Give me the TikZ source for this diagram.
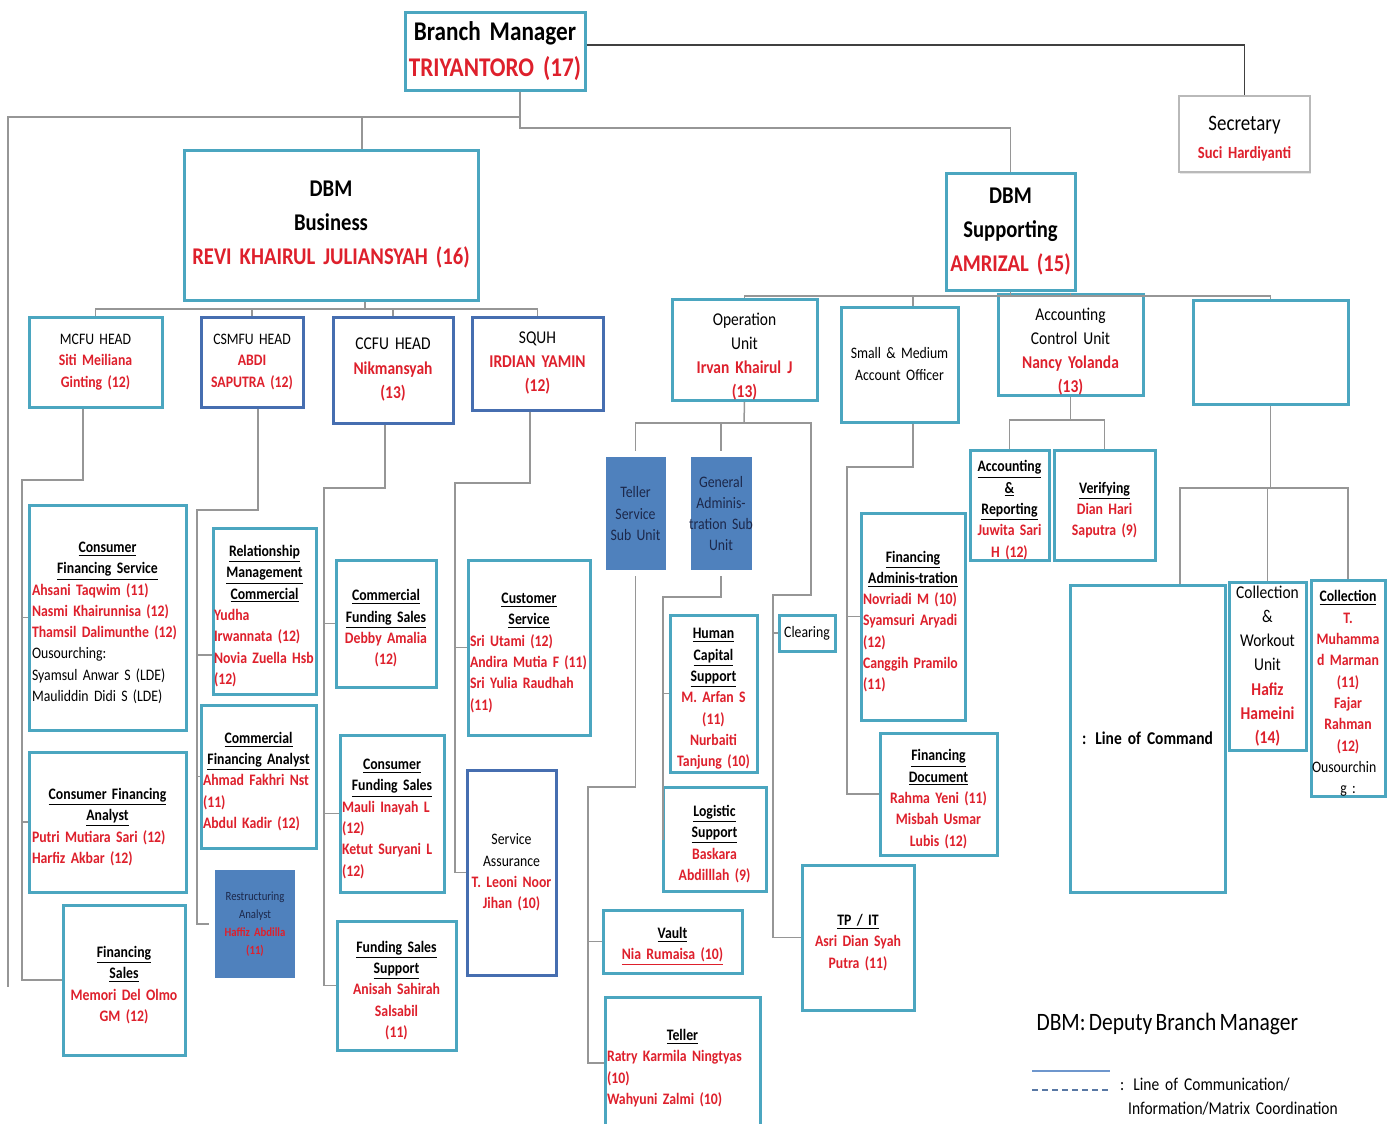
\documentclass[tikz,border=0pt]{standalone}
\usepackage{xcolor}
\usepackage{tikz}
\usepackage{amsmath}
\usepackage{fontspec}
\setmainfont{Carlito}[FakeStretch=0.86, WordSpace=0.68]
\usetikzlibrary{shadows}

\definecolor{unitteal}{RGB}{75,166,192}
\definecolor{headblue}{RGB}{70,110,176}
\definecolor{subblue}{RGB}{79,129,189}
\definecolor{namered}{RGB}{222,32,44}
\definecolor{linkgray}{RGB}{150,150,150}
\definecolor{subtext}{RGB}{28,40,75}
\definecolor{legendblue}{RGB}{110,150,205}

\newcommand{\hd}[1]{\par{\centering\underline{\textbf{#1}}\par}}
\newcommand{\nm}[1]{{\color{namered}\bfseries #1}}

\begin{document}
\begin{tikzpicture}[x=1pt,y=-1pt]
        % Define styles
        \tikzset{
            unit/.style={rectangle, draw=unitteal, line width=3pt, fill=white, inner sep=0pt, align=center, font=\fontsize{16}{21.3}\selectfont},
            head/.style={unit, draw=headblue},
            subunit/.style={rectangle, draw=white, line width=6pt, fill=subblue, inner sep=0pt, align=center, text=subtext, font=\fontsize{16}{21.3}\selectfont, drop shadow={shadow xshift=1pt, shadow yshift=-3pt, opacity=0.25}},
            secbox/.style={rectangle, draw=gray!55, line width=1.5pt, fill=white, inner sep=0pt, align=center, drop shadow={shadow xshift=1pt, shadow yshift=-2pt, opacity=0.2}},
            link/.style={draw=linkgray, line width=1.5pt},
            bmlink/.style={draw=black!75, line width=1.6pt}
        }
        \useasboundingbox (0,0) rectangle (1395,1124);

        % Nodes
        \node[unit, minimum width=180pt, minimum height=77pt, text width=176pt, font=\fontsize{27}{36}\selectfont\bfseries] (bm) at (495,51.5) {Branch Manager\\ \nm{TRIYANTORO (17)}};
        \node[secbox, minimum width=131pt, minimum height=76pt, text width=127pt, font=\fontsize{17}{28}\selectfont] (sec) at (1244.5,134) {\rule{0pt}{24pt}{\fontsize{22}{28}\selectfont Secretary}\\ \nm{Suci Hardiyanti}};

        \node[unit, minimum width=294pt, minimum height=150pt, text width=290pt, font=\fontsize{24}{34}\selectfont\bfseries] (dbb) at (331,225) {DBM\\ Business\\ \nm{REVI KHAIRUL JULIANSYAH (16)}};
        \node[unit, minimum width=129pt, minimum height=117pt, text width=125pt, font=\fontsize{24}{34}\selectfont\bfseries] (dbs) at (1010.5,231.5) {DBM\\ Supporting\\ \nm{AMRIZAL (15)}};

        \node[unit, minimum width=133pt, minimum height=90pt, text width=129pt] (mcfu) at (95.5,362) {MCFU HEAD\\ \nm{Siti Meiliana\\ Ginting (12)}};
        \node[head, minimum width=102pt, minimum height=90pt, text width=98pt] (csmfu) at (252,362) {CSMFU HEAD\\ \nm{ABDI\\ SAPUTRA (12)}};
        \node[head, minimum width=120pt, minimum height=106pt, text width=116pt, font=\fontsize{18}{24.5}\selectfont] (ccfu) at (393,370) {CCFU HEAD\\ \nm{Nikmansyah\\ (13)}};
        \node[head, minimum width=131pt, minimum height=93pt, text width=127pt, font=\fontsize{18}{24}\selectfont] (squh) at (537.5,363.5) {SQUH\\ \nm{IRDIAN YAMIN\\ (12)}};

        \node[unit, minimum width=145pt, minimum height=90pt, text width=141pt, font=\fontsize{18}{24}\selectfont] (opunit) at (744.5,350) {\rule{0pt}{26pt}Operation\\ Unit\\ \nm{Irvan Khairul J\\ (13)}};
        \node[unit, minimum width=117pt, minimum height=115pt, text width=113pt, font=\fontsize{16}{22}\selectfont] (smao) at (899.5,364.5) {Small \& Medium\\ Account Officer};
        \node[unit, minimum width=145pt, minimum height=90pt, text width=141pt, font=\fontsize{18}{24}\selectfont] (acu) at (1070.5,345) {\rule{0pt}{26pt}Accounting\\ Control Unit\\ \nm{Nancy Yolanda\\ (13)}};
        \node[unit, minimum width=155pt, minimum height=104pt] (blank) at (1270.5,352) {};

        % Business side
        \node[unit, align=left, minimum width=157pt, minimum height=225pt, text width=151pt] (cfs) at (107.5,617.5) {\hd{Consumer}\hd{Financing Service}\nm{Ahsani Taqwim (11)\\ Nasmi Khairunnisa (12)\\ Thamsil Dalimunthe (12)}\\ Ousourching:\\ Syamsul Anwar S (LDE)\\ Mauliddin Didi S (LDE)};
        \node[unit, align=left, minimum width=157pt, minimum height=140pt, text width=151pt] (cfa) at (107.5,822) {\hd{Consumer Financing}\hd{Analyst}\nm{Putri Mutiara Sari (12)\\ Harfiz Akbar (12)}};
        \node[unit, minimum width=122pt, minimum height=150pt, text width=118pt] (fsales) at (124,980) {\hd{Financing}\hd{Sales}\nm{Memori Del Olmo\\ GM (12)}};

        \node[unit, align=left, minimum width=103pt, minimum height=166pt, text width=101pt] (rmc) at (264.5,611) {\hd{Relationship}\hd{Management}\hd{Commercial}\nm{Yudha\\ Irwannata (12)\\ Novia Zuella Hsb\\ (12)}};
        \node[unit, align=left, minimum width=115pt, minimum height=143pt, text width=111pt] (cfina) at (258.5,776.5) {\hd{Commercial}\hd{Financing Analyst}\nm{Ahmad Fakhri Nst\\ (11)\\ Abdul Kadir (12)}};
        \node[subunit, minimum width=86pt, minimum height=114pt, text width=82pt, font=\fontsize{12.5}{18}\selectfont] (ra) at (255,924) {Restructuring\\ Analyst\\ \nm{Haffiz Abdilla\\ (11)}};

        \node[unit, minimum width=100pt, minimum height=127pt, text width=96pt] (comfs) at (386,623.5) {\hd{Commercial}\hd{Funding Sales}\nm{Debby Amalia\\ (12)}};
        \node[unit, align=left, minimum width=104pt, minimum height=157pt, text width=100pt] (confs) at (392,813.5) {\hd{Consumer}\hd{Funding Sales}\nm{Mauli Inayah L\\ (12)\\ Ketut Suryani L\\ (12)}};
        \node[unit, minimum width=119pt, minimum height=129pt, text width=115pt] (fss) at (396.5,985.5) {\hd{Funding Sales}\hd{Support}\nm{Anisah Sahirah\\ Salsabil\\ (11)}};

        \node[unit, align=left, minimum width=122pt, minimum height=175pt, text width=118pt] (cs) at (529,647.5) {\hd{Customer}\hd{Service}\nm{Sri Utami (12)\\ Andira Mutia F (11)\\ Sri Yulia Raudhah\\ (11)}};
        \node[head, minimum width=89pt, minimum height=205pt, text width=85pt] (sa) at (511.5,872.5) {Service\\ Assurance\\ \nm{T. Leoni Noor\\ Jihan (10)}};

        % Supporting side
        \node[subunit, minimum width=66pt, minimum height=119pt, text width=62pt] (tssu) at (635.5,513.5) {Teller\\ Service\\ Sub Unit};
        \node[subunit, minimum width=67pt, minimum height=119pt, text width=65pt] (gasu) at (721,513.5) {General\\ Adminis-\\ tration Sub\\ Unit};

        \node[unit, minimum width=87pt, minimum height=157pt, text width=83pt] (hcs) at (713.5,693.5) {\hd{Human}\hd{Capital}\hd{Support}\nm{M. Arfan S\\ (11)\\ Nurbaiti\\ Tanjung (10)}};
        \node[unit, minimum width=103pt, minimum height=104pt, text width=99pt] (ls) at (714.5,839) {\hd{Logistic}\hd{Support}\nm{Baskara\\ Abdilllah (9)}};
        \node[unit, minimum width=56pt, minimum height=36pt, text width=52pt] (clearing) at (807,633) {Clearing};
        \node[unit, minimum width=112pt, minimum height=145pt, text width=108pt] (tpit) at (858,937.5) {\hd{TP / IT}\nm{Asri Dian Syah\\ Putra (11)}};
        \node[unit, minimum width=139pt, minimum height=63pt, text width=135pt] (vault) at (672.5,941.5) {\hd{Vault}\nm{\underline{Nia Rumaisa (10)}}};
        \node[unit, align=left, minimum width=155pt, minimum height=132pt, text width=151pt] (teller) at (682.5,1063) {\hd{Teller}\nm{Ratry Karmila Ningtyas\\ (10)\\ Wahyuni Zalmi (10)}};

        \node[unit, align=left, minimum width=104pt, minimum height=207pt, text width=100pt] (fadm) at (913,616.5) {\hd{Financing}\hd{Adminis-tration}\nm{Novriadi M (10)\\ Syamsuri Aryadi\\ (12)\\ Canggih Pramilo\\ (11)}};
        \node[unit, minimum width=117pt, minimum height=122pt, text width=113pt] (fdoc) at (938.5,794) {\hd{Financing}\hd{Document}\nm{Rahma Yeni (11)\\ Misbah Usmar\\ Lubis (12)}};

        \node[unit, minimum width=79pt, minimum height=110pt, text width=77pt] (ar) at (1009.5,505) {\hd{Accounting}\hd{\&}\hd{Reporting}\nm{Juwita Sari\\ H (12)}};
        \node[unit, minimum width=101pt, minimum height=110pt, text width=97pt] (verif) at (1104.5,505) {\hd{Verifying}\nm{Dian Hari\\ Saputra (9)}};

        \node[unit, minimum width=155pt, minimum height=307pt, text width=151pt, font=\fontsize{18}{24}\selectfont\bfseries] (loc) at (1147.5,738.5) {: Line of Command};
        \node[unit, minimum width=77pt, minimum height=168pt, text width=75pt, font=\fontsize{18}{24.2}\selectfont] (cwu) at (1267.5,666) {Collection\\ \&\\ Workout\\ Unit\\ \nm{Hafiz\\ Hameini\\ (14)}};
        \node[unit, minimum width=74pt, minimum height=213pt, text width=72pt] (coll) at (1348,688.5) {\hd{Collection}\nm{T.\\ Muhamma\\ d Marman\\ (11)\\ Fajar\\ Rahman\\ (12)}\par\raggedright Ousourchin\\ g :};

        % Legend
        \node[anchor=west, font=\fontsize{25}{28}\selectfont] (legend_title) at (1033,1024) {DBM: Deputy Branch Manager};
        \node[anchor=north west, align=left, text width=270pt, inner sep=0pt, font=\fontsize{18}{24}\selectfont] (legend_text) at (1120,1078) {: Line of Communication/\\ \hspace*{8pt}Information/Matrix Coordination};
        \coordinate (leg_solid_a) at (1032,1071);
        \coordinate (leg_solid_b) at (1110,1071);
        \coordinate (leg_dash_a) at (1032,1090);
        \coordinate (leg_dash_b) at (1110,1090);

        % Junctions
        \coordinate (bm_split) at (520,117);
        \coordinate (bm_turn) at (520,128);
        \coordinate (left_end) at (8,987);
        \coordinate (bus_row) at (365,309);
        \coordinate (sup_row) at (1010.5,296);
        \coordinate (mcfu_j) at (22,480);
        \coordinate (csmfu_j) at (197,510);
        \coordinate (ccfu_j) at (324,488);
        \coordinate (squh_j) at (455,483);
        \coordinate (op_row) at (744,423);
        \coordinate (op_turn) at (811,595);
        \coordinate (clr_j) at (773,595);
        \coordinate (ts_j) at (588,787);
        \coordinate (ga_j) at (663,597);
        \coordinate (sm_j) at (847,467);
        \coordinate (acu_row) at (1070.5,420);
        \coordinate (blank_row) at (1270.5,488);

        % Lines
        \draw[bmlink] ([yshift=6.5pt]bm.east) -| (sec.north);
        \draw[link] ([xshift=25pt]bm.south) -- (bm_split);
        \draw[link] (bm_split) -| (left_end);
        \draw[link] (bm_split) -| ([xshift=31pt]dbb.north);
        \draw[link] (bm_split) -- (bm_turn) -| (dbs.north);

        \draw[link] ([xshift=34pt]dbb.south) -- (bus_row);
        \draw[link] (bus_row) -| (mcfu.north);
        \draw[link] (bus_row) -| (csmfu.north);
        \draw[link] (bus_row) -| (ccfu.north);
        \draw[link] (bus_row) -| (squh.north);

        \draw[link] (dbs.south) -- (sup_row);
        \draw[link] (sup_row) -| (opunit.north);
        \draw[link] (sup_row) -| ([xshift=13.5pt]smao.north);
        \draw[link] (sup_row) -| (acu.north);
        \draw[link] (sup_row) -| (blank.north);

        \draw[link] ([xshift=-12.5pt]mcfu.south) |- (mcfu_j) |- (fsales.west);
        \draw[link] (mcfu_j) |- (cfs.west);
        \draw[link] (mcfu_j) |- (cfa.west);

        \draw[link] ([xshift=6pt]csmfu.south) |- (csmfu_j) |- (ra.west);
        \draw[link] (csmfu_j) |- ([yshift=-44pt]rmc.west);
        \draw[link] (csmfu_j) |- (cfina.west);

        \draw[link] ([xshift=-8pt]ccfu.south) |- (ccfu_j) |- (fss.west);
        \draw[link] (ccfu_j) |- (comfs.west);
        \draw[link] (ccfu_j) |- (confs.west);

        \draw[link] ([xshift=-7.5pt]squh.south) |- (squh_j) |- (sa.west);
        \draw[link] (squh_j) |- (cs.west);

        \draw[link] (opunit.south) -- (op_row);
        \draw[link] (op_row) -| (tssu.north);
        \draw[link] (op_row) -| (gasu.north);
        \draw[link] (op_row) -| (op_turn) -- (clr_j) |- (tpit.west);
        \draw[link] (clr_j) |- (clearing.west);

        \draw[link] (tssu.south) |- (ts_j) |- (teller.west);
        \draw[link] (ts_j) |- (vault.west);

        \draw[link] (gasu.south) |- (ga_j) |- (ls.west);
        \draw[link] (ga_j) |- (hcs.west);

        \draw[link] ([xshift=13.5pt]smao.south) |- (sm_j) |- (fdoc.west);
        \draw[link] (sm_j) |- (fadm.west);

        \draw[link] (acu.south) -- (acu_row);
        \draw[link] (acu_row) -| (ar.north);
        \draw[link] (acu_row) -| (verif.north);

        \draw[link] (blank.south) -- (blank_row);
        \draw[link] (blank_row) -| ([xshift=32.5pt]loc.north);
        \draw[link] (blank_row) -| (cwu.north);
        \draw[link] (blank_row) -| (coll.north);

        \draw[legendblue, line width=1.5pt] (leg_solid_a) -- (leg_solid_b);
        \draw[legendblue!80!black, line width=1.5pt, dash pattern=on 6pt off 4pt] (leg_dash_a) -- (leg_dash_b);
    \end{tikzpicture}
\end{document}
